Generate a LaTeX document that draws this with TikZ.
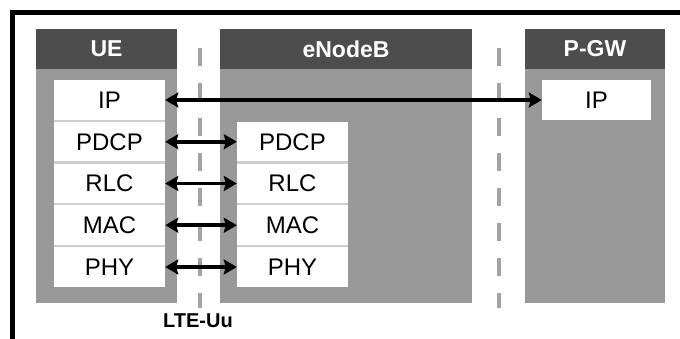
\documentclass[tikz,border=0pt]{standalone}
\usepackage{fontspec}
\setmainfont{Liberation Sans}
\usetikzlibrary{arrows.meta}
\definecolor{hdr}{HTML}{4D4D4D}
\definecolor{bodyg}{HTML}{999999}
\definecolor{sepg}{HTML}{CFCFCF}
\definecolor{dashg}{HTML}{A3A3A3}
\tikzset{
  hdrbox/.style={fill=hdr, draw=none, inner sep=0pt, minimum height=40pt,
     text=white, font=\fontsize{23}{26}\selectfont\bfseries},
  bodybox/.style={fill=bodyg, draw=none, inner sep=0pt},
  layer/.style={fill=white, draw=none, inner sep=0pt, minimum width=111pt,
     minimum height=39.5pt, font=\fontsize{24}{28}\selectfont},
  sepbox/.style={fill=sepg, draw=none, inner sep=0pt, minimum width=111pt},
  iface/.style={dashg, line width=4.5pt, dash pattern=on 18pt off 17pt},
  link/.style={line width=3.8pt, {Stealth[length=13pt,width=15pt,inset=2pt]}-{Stealth[length=13pt,width=15pt,inset=2pt]}},
  frame/.style={line width=5pt, black},
  lbl/.style={font=\fontsize{20}{24}\selectfont\bfseries, inner sep=0pt}
}
\begin{document}
\begin{tikzpicture}[x=1pt,y=-1pt]
\useasboundingbox (0,0) rectangle (680,339);
% frame
\draw[frame] (12.5,339) -- (12.5,12.5) -- (680,12.5);
% UE
\node[bodybox, minimum width=141pt, minimum height=234pt] (uebody) at (106.5,186) {};
\node[hdrbox, minimum width=141pt] (uehdr) at (106.5,49) {UE};
% eNodeB
\node[bodybox, minimum width=252pt, minimum height=234pt] (enbbody) at (346,186) {};
\node[hdrbox, minimum width=252pt] (enbhdr) at (346,49) {eNodeB};
% P-GW
\node[bodybox, minimum width=140pt, minimum height=234pt] (pgwbody) at (595,186) {};
\node[hdrbox, minimum width=140pt] (pgwhdr) at (595,49) {P-GW};
% separators behind stacks
\node[sepbox, minimum height=207pt] (uesep) at (109.5,183.5) {};
\node[sepbox, minimum height=165pt] (enbsep) at (292.5,204.5) {};
% UE layers
\node[layer] (ueip)   at (109.5,100)    {IP};
\node[layer] (uepdcp) at (109.5,141.75) {PDCP};
\node[layer] (uerlc)  at (109.5,183.5)  {RLC};
\node[layer] (uemac)  at (109.5,225.25) {MAC};
\node[layer] (uephy)  at (109.5,267)    {PHY};
% eNodeB layers
\node[layer] (enbpdcp) at (292.5,141.75) {PDCP};
\node[layer] (enbrlc)  at (292.5,183.5)  {RLC};
\node[layer] (enbmac)  at (292.5,225.25) {MAC};
\node[layer] (enbphy)  at (292.5,267)    {PHY};
% P-GW layer
\node[layer, minimum width=109pt] (pgwip) at (596.5,100) {IP};
% interface dashed lines
\coordinate (d1a) at (200,48);
\coordinate (d1b) at (200,308);
\coordinate (d2a) at (499,48);
\coordinate (d2b) at (499,308);
\draw[iface] (d1a) -- (d1b);
\draw[iface] (d2a) -- (d2b);
% links
\draw[link] (ueip.east) -- (pgwip.west);
\draw[link] (uepdcp.east) -- (enbpdcp.west);
\draw[link] (uerlc.east) -- (enbrlc.west);
\draw[link] (uemac.east) -- (enbmac.west);
\draw[link] (uephy.east) -- (enbphy.west);
% label
\node[lbl] (lteuu) at (198,321) {LTE-Uu};
\end{tikzpicture}
\end{document}
